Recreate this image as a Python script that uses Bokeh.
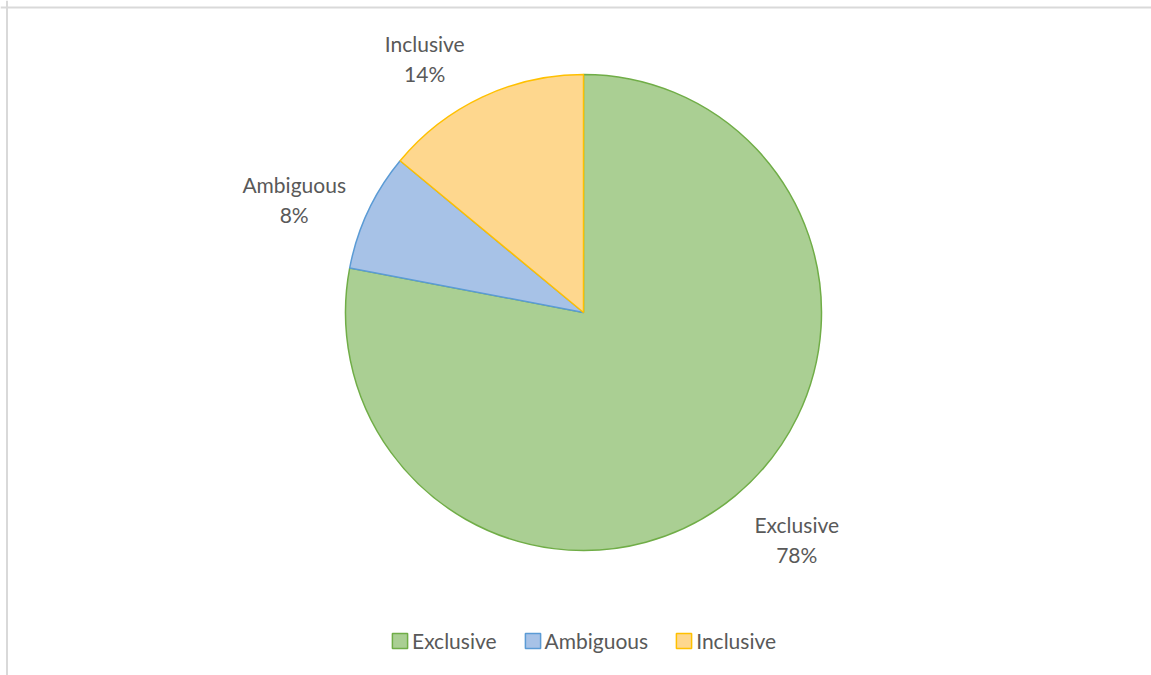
import numpy as np
from bokeh.plotting import figure
from bokeh.models import Range1d, Span, Legend, LegendItem, ColumnDataSource
from bokeh.core.properties import value
from bokeh.embed import file_html
from bokeh.resources import INLINE

# ---- data ----
categories = ["Exclusive", "Ambiguous", "Inclusive"]
shares = [78, 8, 14]

# ---- style / layout ----
fill_colors = ["#aacf93", "#a7c2e7", "#fed78e"]
line_colors = ["#70ad47", "#5b9bd5", "#ffc000"]
W, H = 1151, 675
CX, CY, R = 583, H - 312, 238
FONT = "Lato"
FSIZE = "21px"
TXT = "#595959"
# label placement: ellipse around pie + small per-label nudges (pixels)
LAB_A, LAB_B = 333, 284
nudge_x = [1, 12, -17]
nudge_y = [-8, -8, -3]
LINE_GAP = 30

p = figure(width=W, height=H, output_backend="svg", toolbar_location=None,
           x_range=Range1d(0, W), y_range=Range1d(0, H), min_border=0)
p.axis.visible = False
p.grid.visible = False
p.outline_line_color = None
p.background_fill_color = "white"

vals = np.array(shares, dtype=float)
frac = vals / vals.sum()
cum = np.concatenate([[0], np.cumsum(frac)])
start = np.pi / 2 - cum[:-1] * 2 * np.pi
end = np.pi / 2 - cum[1:] * 2 * np.pi
mid = (start + end) / 2

renderers = []
for i, c in enumerate(categories):
    src = ColumnDataSource(dict(x=[CX], y=[CY], s=[start[i]], e=[end[i]]))
    r = p.wedge(x="x", y="y", radius=R, start_angle="s", end_angle="e",
                direction="clock", source=src, fill_color=fill_colors[i],
                line_color=line_colors[i], line_width=1.5)
    renderers.append(r)

# data labels (outside end)
lx = CX + LAB_A * np.cos(mid) + np.array(nudge_x)
ly = CY + LAB_B * np.sin(mid) + np.array(nudge_y)
lab = ColumnDataSource(dict(x=lx, y=ly + LINE_GAP / 2, y2=ly - LINE_GAP / 2, name=categories,
                            pct=[f"{v}%" for v in shares]))
p.text(x="x", y="y", text="name", source=lab, text_align="center", text_baseline="middle",
       text_font=value(FONT), text_font_size=FSIZE, text_color=TXT)
p.text(x="x", y="y2", text="pct", source=lab, text_align="center", text_baseline="middle",
       text_font=value(FONT), text_font_size=FSIZE, text_color=TXT)

# chart border (left/top visible)
p.add_layout(Span(location=6.5, dimension="height", line_color="#d9d9d9", line_width=2))
p.add_layout(Span(location=H - 7, dimension="width", line_color="#d9d9d9", line_width=2))

legend = Legend(items=[LegendItem(label=c, renderers=[renderers[i]]) for i, c in enumerate(categories)],
                orientation="horizontal", location=(390, 22),
                label_text_font=FONT, label_text_font_size=FSIZE, label_text_color=TXT,
                glyph_width=19, glyph_height=19, label_standoff=3, spacing=26,
                padding=0, margin=0, border_line_color=None, background_fill_alpha=0)
p.add_layout(legend)

open("out.html", "w").write(file_html(p, INLINE))
